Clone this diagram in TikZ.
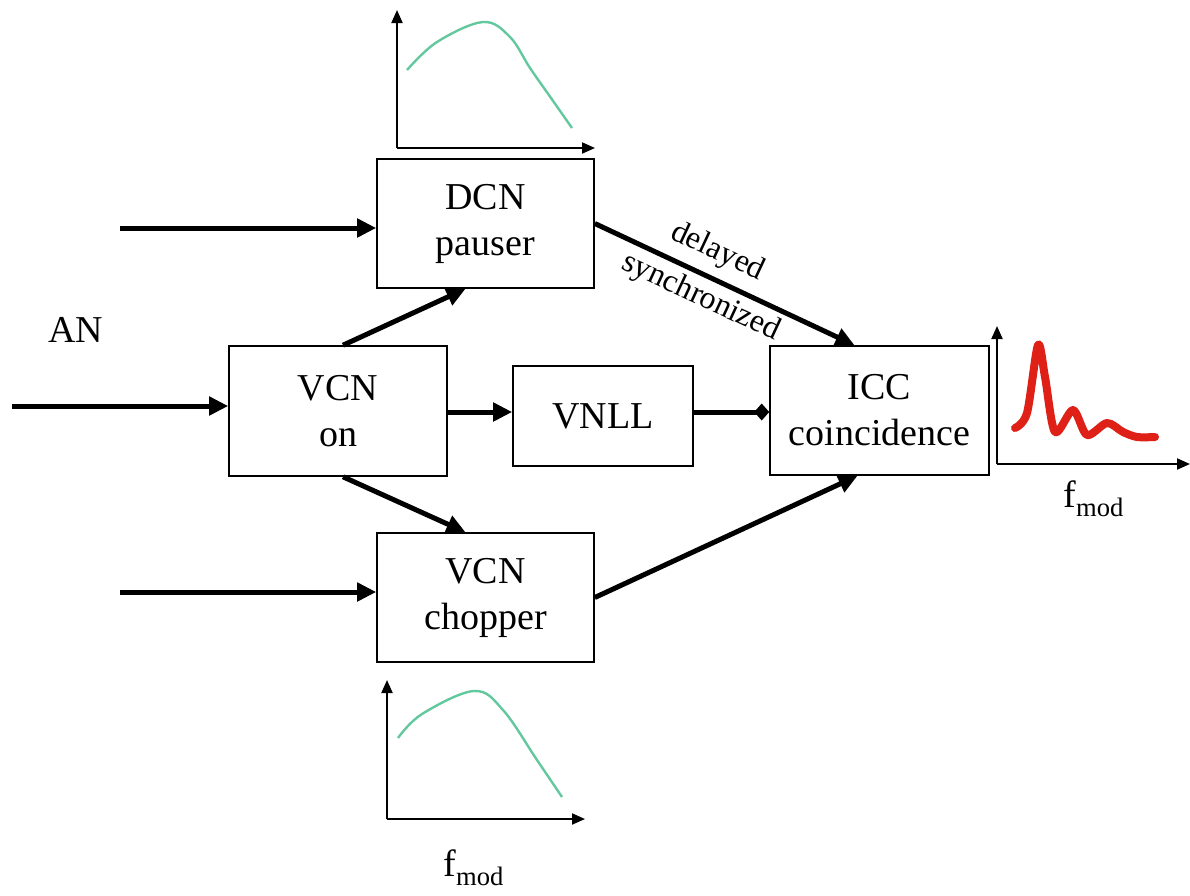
\documentclass[tikz,border=0pt]{standalone}
\usepackage{fontspec}
\setmainfont{Liberation Serif}
\usepackage{xcolor}
\usetikzlibrary{arrows.meta,calc}
\definecolor{curvegreen}{RGB}{100,200,158}
\definecolor{curvered}{RGB}{222,32,22}

\begin{document}
\begin{tikzpicture}[x=1pt, y=-1pt,
	every node/.style={font=\fontsize{38}{46}\selectfont},
	block/.style={draw, line width=1.6pt, align=center, inner sep=0pt},
	flow/.style={line width=5pt, -{Triangle[length=19pt,width=18pt]}},
	axisline/.style={line width=2pt, -{Triangle[length=13pt,width=11pt]}},
	tag/.style={font=\fontsize{32}{38}\selectfont, inner sep=1pt}]
			\useasboundingbox (0,0) rectangle (1190,895);
			% boxes
			\node[block, minimum width=217pt, minimum height=129pt](dcn) at (485.5, 223.5) {DCN\\pauser};
			\node[block, minimum width=218pt, minimum height=130pt](vcn) at (338, 411) {VCN\\on};
			\node[block, minimum width=180pt, minimum height=100pt](vnll) at (603, 416) {VNLL};
			\node[block, minimum width=219pt, minimum height=129pt](icc) at (879.5, 410.5) {ICC\\coincidence};
			\node[block, minimum width=217pt, minimum height=129pt](chop) at (485.5, 597.5) {VCN\\chopper};
			\node[anchor=base west](an) at (45, 342) {AN};
			% inputs
			\coordinate(inD) at (120, 228);
			\coordinate(inV) at (12, 406);
			\coordinate(inC) at (120, 592);
			\draw[flow] (inD) -- (inD -| dcn.west);
			\draw[flow] (inV) -- (inV -| vcn.west);
			\draw[flow] (inC) -- (inC -| chop.west);
			% connections
			\draw[flow] ($(vcn.north)+(5,0)$) -- ($(dcn.south)+(-20,0)$);
			\draw[flow] ($(vcn.south)+(5,0)$) -- ($(chop.north)+(-20,0)$);
			\draw[flow] (vcn.east |- 0,412) -- (vnll.west |- 0,412);
			\draw[line width=5pt, -{Diamond[length=15pt,width=17pt]}] (vnll.east |- 0,412) -- (icc.west |- 0,412);
			\draw[flow] (dcn.east) -- ($(icc.north)+(-25,0)$)
				node[tag, pos=0.43, sloped, above=8pt] {delayed}
				node[tag, pos=0.445, sloped, below=4pt] {synchronized};
			\draw[flow] (chop.east) -- ($(icc.south)+(-22,0)$);
			% tuning curves
			\draw[axisline] (397,148) -- (397,10);
			\draw[axisline] (397,148) -- (595,148);
			\draw[curvegreen, line width=2.4pt] plot[smooth, tension=0.6] coordinates {(407,70) (437,42) (483,22) (510,37) (530,68) (551,98) (572,128)};
			\draw[axisline] (387,819) -- (387,680);
			\draw[axisline] (387,819) -- (585,819);
			\draw[curvegreen, line width=2.4pt] plot[smooth, tension=0.6] coordinates {(398,738) (422,714) (474,691) (503,710) (537,760) (562,797)};
			\node[anchor=base west](fb) at (440, 876) {f\textsubscript{mod}};
			\draw[axisline] (997,464) -- (997,326);
			\draw[axisline] (997,464) -- (1190,464);
			\draw[curvered, line width=8pt, line cap=round, line join=round] plot[smooth, tension=0.5] coordinates {(1015,428) (1027,413) (1038,345) (1045,377) (1055,432) (1073,410) (1087,435) (1107,423) (1123,432) (1137,437) (1155,437)};
			\node[anchor=base west](fr) at (1060, 507) {f\textsubscript{mod}};
		\end{tikzpicture}
\end{document}
